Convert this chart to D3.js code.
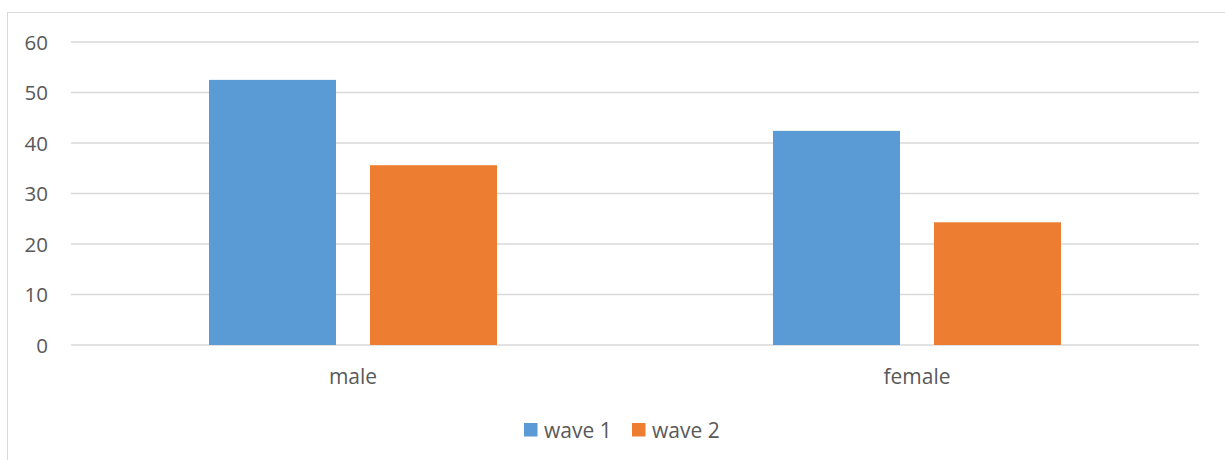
<!DOCTYPE html>
<html><head><meta charset="utf-8">
<script src="https://cdn.jsdelivr.net/npm/d3@7"></script>
<style>body{margin:0;background:#fff}svg{display:block}text{font-family:"Open Sans",sans-serif;fill:#595959}</style>
</head><body>
<svg id="c" width="1225" height="460"></svg>
<script>
const categories = ["male", "female"];
const seriesNames = ["wave 1", "wave 2"];
const wave1 = [52.5, 42.4];
const wave2 = [35.6, 24.3];
const yTicks = [0, 10, 20, 30, 40, 50, 60];
const colors = ["#5B9BD5", "#ED7D31"];

const svg = d3.select("#c");
const L = 71, R = 1199, T = 42, B = 345;

svg.append("rect").attr("x", 7.5).attr("y", 12.5).attr("width", 1240).attr("height", 470)
  .attr("fill", "none").attr("stroke", "#d9d9d9").attr("stroke-width", 1);

const y = d3.scaleLinear().domain([0, 60]).range([B, T]);
const x0 = d3.scaleBand().domain(categories).range([L, R]).paddingInner(0).paddingOuter(0);
const x1 = d3.scaleBand().domain(seriesNames).range([0, x0.bandwidth()]).paddingInner(0.211).paddingOuter(0.857);

const grid = svg.append("g");
grid.selectAll("line").data(yTicks).join("line")
  .attr("x1", L).attr("x2", R).attr("y1", d => y(d)).attr("y2", d => y(d))
  .attr("stroke", "#d9d9d9").attr("stroke-width", 1.3);

const yAxis = svg.append("g").attr("transform", `translate(${L - 23},0)`)
  .call(d3.axisLeft(y).tickValues(yTicks).tickSize(0).tickPadding(0));
yAxis.select(".domain").remove();
yAxis.selectAll("text").style("font-size", "20.5px").attr("fill", "#595959").attr("dy", "0.36em");

const data = categories.map((c, i) => ({c, vals: [wave1[i], wave2[i]]}));
const groups = svg.append("g").selectAll("g").data(data).join("g")
  .attr("transform", d => `translate(${x0(d.c)},0)`);
groups.selectAll("rect").data(d => d.vals.map((v, j) => ({s: seriesNames[j], v, j}))).join("rect")
  .attr("x", d => x1(d.s)).attr("width", x1.bandwidth())
  .attr("y", d => y(d.v)).attr("height", d => y(0) - y(d.v))
  .attr("fill", d => colors[d.j]);

const xAxis = svg.append("g").attr("transform", `translate(0,${B})`)
  .call(d3.axisBottom(x0).tickSize(0).tickPadding(0));
xAxis.select(".domain").remove();
xAxis.selectAll("text").style("font-size", "21px").attr("fill", "#595959").attr("dy", "0").attr("y", 38.5);

const legend = svg.append("g");
const lx = [524, 632];
seriesNames.forEach((s, i) => {
  legend.append("rect").attr("x", lx[i]).attr("y", 423).attr("width", 13.5).attr("height", 13.5).attr("fill", colors[i]);
  legend.append("text").attr("x", lx[i] + 20).attr("y", 437.5).style("font-size", "21px").text(s);
});
</script>
</body></html>
